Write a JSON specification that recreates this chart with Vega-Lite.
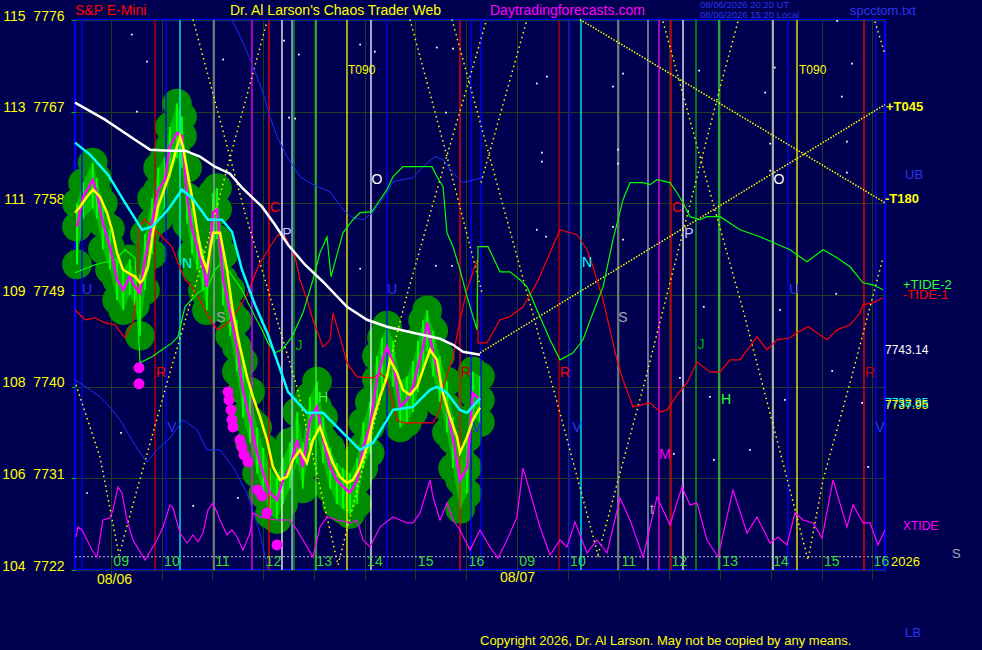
{
  "$schema": "https://vega.github.io/schema/vega-lite/v6.json",
  "description": "S&P E-Mini chaos trader chart, 08/06 - 08/07",
  "width": 810,
  "height": 550,
  "autosize": {"type": "none"},
  "padding": {"left": 75, "top": 20, "right": 97, "bottom": 80},
  "background": "#000050",
  "config": {
    "view": {"fill": "#000050", "stroke": "#0000ff", "strokeWidth": 2.5},
    "font": "Liberation Sans"
  },
  "datasets": {
    "base": [{"t": -0.709, "p": 7723.3}, {"t": 15.251, "p": 7723.3}],
    "px": [
      {"t": -0.67, "p": 7755.7, "hi": 7758.0, "lo": 7752.0},
      {"t": -0.55, "p": 7758.6, "hi": 7760.0, "lo": 7756.5},
      {"t": -0.36, "p": 7760.3, "hi": 7762.0, "lo": 7757.5},
      {"t": -0.28, "p": 7759.0, "hi": 7760.5, "lo": 7756.5},
      {"t": -0.16, "p": 7756.1, "hi": 7758.0, "lo": 7753.5},
      {"t": -0.02, "p": 7753.7, "hi": 7755.5, "lo": 7751.5},
      {"t": 0.12, "p": 7750.5, "hi": 7752.5, "lo": 7748.5},
      {"t": 0.24, "p": 7749.5, "hi": 7751.5, "lo": 7747.5},
      {"t": 0.37, "p": 7750.8, "hi": 7752.5, "lo": 7749.0},
      {"t": 0.47, "p": 7749.8, "hi": 7751.0, "lo": 7748.0},
      {"t": 0.57, "p": 7749.2, "hi": 7751.0, "lo": 7745.0},
      {"t": 0.67, "p": 7752.5, "hi": 7755.0, "lo": 7749.5},
      {"t": 0.81, "p": 7756.1, "hi": 7758.5, "lo": 7753.0},
      {"t": 0.93, "p": 7759.3, "hi": 7761.5, "lo": 7756.5},
      {"t": 1.06, "p": 7760.3, "hi": 7762.5, "lo": 7757.5},
      {"t": 1.16, "p": 7763.6, "hi": 7765.5, "lo": 7760.5},
      {"t": 1.30, "p": 7764.9, "hi": 7767.8, "lo": 7762.5},
      {"t": 1.40, "p": 7764.6, "hi": 7766.5, "lo": 7761.5},
      {"t": 1.50, "p": 7758.6, "hi": 7761.5, "lo": 7756.0},
      {"t": 1.60, "p": 7755.4, "hi": 7757.5, "lo": 7753.0},
      {"t": 1.70, "p": 7753.7, "hi": 7755.5, "lo": 7751.5},
      {"t": 1.81, "p": 7751.8, "hi": 7753.5, "lo": 7749.5},
      {"t": 1.89, "p": 7749.8, "hi": 7752.0, "lo": 7747.5},
      {"t": 2.01, "p": 7757.1, "hi": 7759.0, "lo": 7754.0},
      {"t": 2.09, "p": 7757.4, "hi": 7759.5, "lo": 7754.5},
      {"t": 2.21, "p": 7750.5, "hi": 7753.0, "lo": 7748.0},
      {"t": 2.35, "p": 7747.3, "hi": 7749.5, "lo": 7745.0},
      {"t": 2.48, "p": 7743.9, "hi": 7746.5, "lo": 7741.5},
      {"t": 2.60, "p": 7739.7, "hi": 7742.5, "lo": 7737.0},
      {"t": 2.74, "p": 7736.7, "hi": 7739.5, "lo": 7734.5},
      {"t": 2.88, "p": 7733.5, "hi": 7736.0, "lo": 7731.5},
      {"t": 3.00, "p": 7731.5, "hi": 7734.0, "lo": 7729.5},
      {"t": 3.13, "p": 7729.6, "hi": 7732.0, "lo": 7727.5},
      {"t": 3.27, "p": 7728.9, "hi": 7731.0, "lo": 7727.0},
      {"t": 3.39, "p": 7730.8, "hi": 7733.0, "lo": 7728.5},
      {"t": 3.53, "p": 7732.1, "hi": 7734.5, "lo": 7730.0},
      {"t": 3.67, "p": 7734.8, "hi": 7737.5, "lo": 7732.5},
      {"t": 3.78, "p": 7732.1, "hi": 7734.5, "lo": 7730.0},
      {"t": 3.92, "p": 7736.7, "hi": 7739.0, "lo": 7734.0},
      {"t": 4.06, "p": 7738.0, "hi": 7740.5, "lo": 7735.5},
      {"t": 4.18, "p": 7734.8, "hi": 7737.0, "lo": 7732.5},
      {"t": 4.32, "p": 7732.1, "hi": 7734.0, "lo": 7730.0},
      {"t": 4.45, "p": 7730.8, "hi": 7732.5, "lo": 7728.5},
      {"t": 4.57, "p": 7730.2, "hi": 7732.0, "lo": 7728.0},
      {"t": 4.71, "p": 7729.6, "hi": 7731.5, "lo": 7727.5},
      {"t": 4.85, "p": 7730.8, "hi": 7733.0, "lo": 7728.5},
      {"t": 4.97, "p": 7734.1, "hi": 7736.5, "lo": 7732.0},
      {"t": 5.10, "p": 7736.1, "hi": 7738.5, "lo": 7733.5},
      {"t": 5.24, "p": 7740.7, "hi": 7743.0, "lo": 7738.0},
      {"t": 5.34, "p": 7742.6, "hi": 7744.8, "lo": 7739.5},
      {"t": 5.44, "p": 7743.9, "hi": 7746.0, "lo": 7741.5},
      {"t": 5.56, "p": 7742.3, "hi": 7744.5, "lo": 7740.0},
      {"t": 5.70, "p": 7738.0, "hi": 7740.5, "lo": 7736.0},
      {"t": 5.83, "p": 7738.7, "hi": 7741.0, "lo": 7736.5},
      {"t": 5.95, "p": 7740.0, "hi": 7742.5, "lo": 7737.5},
      {"t": 6.05, "p": 7742.0, "hi": 7744.5, "lo": 7739.5},
      {"t": 6.15, "p": 7743.9, "hi": 7746.5, "lo": 7741.5},
      {"t": 6.23, "p": 7746.3, "hi": 7747.5, "lo": 7743.5},
      {"t": 6.35, "p": 7743.3, "hi": 7745.5, "lo": 7741.0},
      {"t": 6.48, "p": 7740.7, "hi": 7743.0, "lo": 7738.5},
      {"t": 6.62, "p": 7738.0, "hi": 7740.5, "lo": 7735.5},
      {"t": 6.74, "p": 7734.8, "hi": 7737.0, "lo": 7732.0},
      {"t": 6.88, "p": 7730.8, "hi": 7733.0, "lo": 7728.0},
      {"t": 7.02, "p": 7732.1, "hi": 7735.0, "lo": 7729.5},
      {"t": 7.13, "p": 7739.4, "hi": 7741.5, "lo": 7737.0},
      {"t": 7.27, "p": 7738.7, "hi": 7741.0, "lo": 7736.5}
    ],
    "smooth": [
      {"t": -0.709, "p": 7757.08}, {"t": -0.611, "p": 7757.67}, {"t": -0.473, "p": 7758.65}, {"t": -0.355, "p": 7759.34},
      {"t": -0.217, "p": 7758.65}, {"t": -0.079, "p": 7757.08}, {"t": 0.02, "p": 7755.41}, {"t": 0.118, "p": 7753.15},
      {"t": 0.236, "p": 7751.48}, {"t": 0.473, "p": 7750.79}, {"t": 0.571, "p": 7750.2}, {"t": 0.631, "p": 7750.49},
      {"t": 0.729, "p": 7751.77}, {"t": 0.828, "p": 7755.11}, {"t": 0.926, "p": 7757.67}, {"t": 1.025, "p": 7759.04},
      {"t": 1.163, "p": 7761.01}, {"t": 1.3, "p": 7763.56}, {"t": 1.36, "p": 7764.55}, {"t": 1.419, "p": 7763.56},
      {"t": 1.498, "p": 7761.3}, {"t": 1.596, "p": 7758.65}, {"t": 1.695, "p": 7755.41}, {"t": 1.793, "p": 7752.76},
      {"t": 1.892, "p": 7751.48}, {"t": 1.951, "p": 7753.44}, {"t": 2.01, "p": 7755.11}, {"t": 2.148, "p": 7755.11},
      {"t": 2.286, "p": 7751.48}, {"t": 2.404, "p": 7747.25}, {"t": 2.542, "p": 7743.91}, {"t": 2.68, "p": 7740.96},
      {"t": 2.798, "p": 7739.0}, {"t": 2.936, "p": 7737.03}, {"t": 3.074, "p": 7734.77}, {"t": 3.192, "p": 7732.12},
      {"t": 3.33, "p": 7730.84}, {"t": 3.468, "p": 7731.14}, {"t": 3.586, "p": 7732.81}, {"t": 3.724, "p": 7733.79},
      {"t": 3.862, "p": 7732.51}, {"t": 3.98, "p": 7734.77}, {"t": 4.118, "p": 7736.05}, {"t": 4.256, "p": 7734.08},
      {"t": 4.374, "p": 7732.51}, {"t": 4.512, "p": 7731.14}, {"t": 4.65, "p": 7730.55}, {"t": 4.768, "p": 7730.84},
      {"t": 4.906, "p": 7732.12}, {"t": 5.044, "p": 7734.08}, {"t": 5.163, "p": 7736.74}, {"t": 5.3, "p": 7738.99},
      {"t": 5.438, "p": 7740.96}, {"t": 5.498, "p": 7742.63}, {"t": 5.635, "p": 7741.36}, {"t": 5.754, "p": 7739.68},
      {"t": 5.892, "p": 7739.19}, {"t": 6.03, "p": 7739.98}, {"t": 6.148, "p": 7741.65}, {"t": 6.286, "p": 7743.62},
      {"t": 6.424, "p": 7742.63}, {"t": 6.522, "p": 7739.68}, {"t": 6.68, "p": 7737.03}, {"t": 6.818, "p": 7735.07},
      {"t": 6.877, "p": 7733.49}, {"t": 7.015, "p": 7735.07}, {"t": 7.133, "p": 7736.74}, {"t": 7.271, "p": 7737.95}
    ],
    "maSlow": [
      {"t": -0.709, "p": 7767.89}, {"t": -0.118, "p": 7766.22}, {"t": 0.473, "p": 7764.25}, {"t": 0.768, "p": 7763.27},
      {"t": 1.163, "p": 7763.17}, {"t": 1.458, "p": 7763.17}, {"t": 1.754, "p": 7762.58}, {"t": 2.049, "p": 7761.6},
      {"t": 2.345, "p": 7760.91}, {"t": 2.581, "p": 7759.54}, {"t": 2.975, "p": 7757.67}, {"t": 3.232, "p": 7755.9},
      {"t": 3.488, "p": 7753.94}, {"t": 3.823, "p": 7751.97}, {"t": 4.177, "p": 7750.3}, {"t": 4.65, "p": 7747.84},
      {"t": 5.044, "p": 7746.57}, {"t": 5.438, "p": 7745.88}, {"t": 5.951, "p": 7745.29}, {"t": 6.483, "p": 7744.7},
      {"t": 6.739, "p": 7744.11}, {"t": 6.936, "p": 7743.42}, {"t": 7.271, "p": 7743.14}
    ],
    "maFast": [
      {"t": -0.709, "p": 7763.96}, {"t": -0.414, "p": 7762.78}, {"t": -0.059, "p": 7760.81}, {"t": 0.276, "p": 7758.06},
      {"t": 0.611, "p": 7755.41}, {"t": 0.808, "p": 7755.7}, {"t": 1.123, "p": 7757.37}, {"t": 1.399, "p": 7759.34},
      {"t": 1.596, "p": 7758.55}, {"t": 1.911, "p": 7756.39}, {"t": 2.187, "p": 7756.39}, {"t": 2.384, "p": 7755.21},
      {"t": 2.581, "p": 7751.48}, {"t": 2.837, "p": 7748.04}, {"t": 3.094, "p": 7745.09}, {"t": 3.488, "p": 7739.49},
      {"t": 3.862, "p": 7737.43}, {"t": 4.177, "p": 7737.43}, {"t": 4.65, "p": 7735.07}, {"t": 4.906, "p": 7733.79},
      {"t": 5.163, "p": 7734.48}, {"t": 5.557, "p": 7737.72}, {"t": 5.951, "p": 7738.01}, {"t": 6.286, "p": 7739.68},
      {"t": 6.424, "p": 7739.98}, {"t": 6.621, "p": 7739.39}, {"t": 6.877, "p": 7737.72}, {"t": 7.015, "p": 7737.43},
      {"t": 7.271, "p": 7738.85}
    ],
    "tide2": [
      {"t": -0.709, "p": 7751.19}, {"t": -0.315, "p": 7751.97}, {"t": 0.079, "p": 7752.46}, {"t": 0.276, "p": 7753.44},
      {"t": 0.473, "p": 7752.66}, {"t": 0.571, "p": 7742.34}, {"t": 0.808, "p": 7742.93}, {"t": 1.005, "p": 7743.62},
      {"t": 1.202, "p": 7744.3}, {"t": 1.32, "p": 7744.89}, {"t": 1.458, "p": 7747.84}, {"t": 1.714, "p": 7749.22},
      {"t": 1.911, "p": 7749.81}, {"t": 2.049, "p": 7751.48}, {"t": 2.187, "p": 7752.17}, {"t": 2.305, "p": 7751.48},
      {"t": 2.443, "p": 7750.5}, {"t": 2.581, "p": 7749.51}, {"t": 2.7, "p": 7748.23}, {"t": 2.837, "p": 7746.86},
      {"t": 2.975, "p": 7745.58}, {"t": 3.094, "p": 7744.3}, {"t": 3.232, "p": 7743.32}, {"t": 3.369, "p": 7743.62},
      {"t": 3.567, "p": 7744.89}, {"t": 3.783, "p": 7747.25}, {"t": 3.98, "p": 7750.5}, {"t": 4.118, "p": 7753.15},
      {"t": 4.256, "p": 7754.72}, {"t": 4.335, "p": 7750.79}, {"t": 4.571, "p": 7755.11}, {"t": 4.768, "p": 7756.39},
      {"t": 4.906, "p": 7757.08}, {"t": 5.143, "p": 7757.18}, {"t": 5.261, "p": 7758.06}, {"t": 5.438, "p": 7759.34},
      {"t": 5.557, "p": 7760.62}, {"t": 5.754, "p": 7761.6}, {"t": 6.325, "p": 7761.6}, {"t": 6.424, "p": 7760.62},
      {"t": 6.542, "p": 7759.63}, {"t": 6.621, "p": 7755.11}, {"t": 6.739, "p": 7753.74}, {"t": 6.877, "p": 7751.48},
      {"t": 7.034, "p": 7748.53}, {"t": 7.212, "p": 7745.58}, {"t": 7.232, "p": 7753.74}, {"t": 7.429, "p": 7753.74},
      {"t": 7.665, "p": 7751.28}, {"t": 7.862, "p": 7751.28}, {"t": 8.059, "p": 7750.5}, {"t": 8.197, "p": 7749.81},
      {"t": 8.453, "p": 7746.86}, {"t": 8.65, "p": 7744.6}, {"t": 8.847, "p": 7742.63}, {"t": 9.103, "p": 7743.32},
      {"t": 9.3, "p": 7744.6}, {"t": 9.498, "p": 7747.25}, {"t": 9.695, "p": 7749.81}, {"t": 9.892, "p": 7754.43},
      {"t": 10.089, "p": 7758.36}, {"t": 10.227, "p": 7760.03}, {"t": 10.483, "p": 7760.03}, {"t": 10.621, "p": 7759.83},
      {"t": 10.759, "p": 7760.32}, {"t": 11.015, "p": 7760.03}, {"t": 11.153, "p": 7759.04}, {"t": 11.271, "p": 7758.06},
      {"t": 11.409, "p": 7756.69}, {"t": 11.606, "p": 7756.39}, {"t": 11.744, "p": 7756.69}, {"t": 12.0, "p": 7756.69},
      {"t": 12.394, "p": 7755.41}, {"t": 12.788, "p": 7754.72}, {"t": 13.379, "p": 7753.44}, {"t": 13.714, "p": 7752.26},
      {"t": 14.03, "p": 7753.44}, {"t": 14.305, "p": 7752.66}, {"t": 14.562, "p": 7751.77}, {"t": 14.818, "p": 7750.2},
      {"t": 15.015, "p": 7750.0}, {"t": 15.212, "p": 7749.51}
    ],
    "tide1": [
      {"t": -0.709, "p": 7747.55}, {"t": -0.512, "p": 7746.57}, {"t": -0.315, "p": 7746.76}, {"t": -0.118, "p": 7746.27},
      {"t": 0.079, "p": 7746.07}, {"t": 0.276, "p": 7744.8}, {"t": 0.433, "p": 7746.27}, {"t": 0.53, "p": 7749.51},
      {"t": 0.54, "p": 7755.7}, {"t": 0.67, "p": 7756.39}, {"t": 0.867, "p": 7755.41}, {"t": 1.005, "p": 7754.72},
      {"t": 1.202, "p": 7753.74}, {"t": 1.32, "p": 7752.17}, {"t": 1.458, "p": 7750.5}, {"t": 1.596, "p": 7749.81},
      {"t": 1.714, "p": 7748.83}, {"t": 1.852, "p": 7747.55}, {"t": 1.99, "p": 7746.27}, {"t": 2.108, "p": 7745.58},
      {"t": 2.305, "p": 7746.27}, {"t": 2.502, "p": 7747.55}, {"t": 2.7, "p": 7749.22}, {"t": 2.897, "p": 7751.77},
      {"t": 3.094, "p": 7753.44}, {"t": 3.291, "p": 7754.92}, {"t": 3.429, "p": 7754.72}, {"t": 3.626, "p": 7752.76},
      {"t": 3.724, "p": 7750.5}, {"t": 3.862, "p": 7748.53}, {"t": 3.98, "p": 7746.57}, {"t": 4.177, "p": 7743.91},
      {"t": 4.315, "p": 7744.6}, {"t": 4.374, "p": 7747.25}, {"t": 4.512, "p": 7744.89}, {"t": 4.65, "p": 7742.34},
      {"t": 4.847, "p": 7740.96}, {"t": 5.163, "p": 7740.86}, {"t": 5.3, "p": 7741.36}, {"t": 5.438, "p": 7740.67},
      {"t": 5.498, "p": 7739.39}, {"t": 5.635, "p": 7736.74}, {"t": 5.754, "p": 7736.44}, {"t": 6.345, "p": 7736.44},
      {"t": 6.483, "p": 7737.72}, {"t": 6.542, "p": 7739.98}, {"t": 6.739, "p": 7742.93}, {"t": 6.877, "p": 7746.57},
      {"t": 7.015, "p": 7749.51}, {"t": 7.212, "p": 7752.46}, {"t": 7.232, "p": 7744.3}, {"t": 7.409, "p": 7744.3},
      {"t": 7.665, "p": 7746.57}, {"t": 7.862, "p": 7746.86}, {"t": 8.118, "p": 7747.84}, {"t": 8.394, "p": 7750.2},
      {"t": 8.65, "p": 7753.15}, {"t": 8.847, "p": 7755.41}, {"t": 8.985, "p": 7755.21}, {"t": 9.182, "p": 7754.92},
      {"t": 9.379, "p": 7753.44}, {"t": 9.498, "p": 7751.77}, {"t": 9.695, "p": 7748.53}, {"t": 9.97, "p": 7742.63},
      {"t": 10.089, "p": 7740.67}, {"t": 10.286, "p": 7738.01}, {"t": 10.621, "p": 7738.41}, {"t": 10.818, "p": 7737.52},
      {"t": 10.956, "p": 7737.72}, {"t": 11.153, "p": 7739.19}, {"t": 11.35, "p": 7740.37}, {"t": 11.547, "p": 7742.44},
      {"t": 11.803, "p": 7741.45}, {"t": 12.0, "p": 7741.45}, {"t": 12.197, "p": 7742.63}, {"t": 12.394, "p": 7742.63},
      {"t": 12.729, "p": 7744.89}, {"t": 12.926, "p": 7743.62}, {"t": 13.123, "p": 7744.6}, {"t": 13.379, "p": 7744.8},
      {"t": 13.517, "p": 7745.29}, {"t": 13.734, "p": 7745.88}, {"t": 14.108, "p": 7744.6}, {"t": 14.305, "p": 7745.58},
      {"t": 14.562, "p": 7746.07}, {"t": 14.759, "p": 7747.25}, {"t": 14.818, "p": 7748.04}, {"t": 15.015, "p": 7748.23},
      {"t": 15.212, "p": 7748.73}
    ],
    "xtide": [
      {"t": -0.69, "p": 7725.24}, {"t": -0.65, "p": 7726.22}, {"t": -0.571, "p": 7725.93}, {"t": -0.374, "p": 7723.96},
      {"t": -0.276, "p": 7723.27}, {"t": -0.158, "p": 7726.91}, {"t": -0.02, "p": 7727.11}, {"t": 0.039, "p": 7727.9},
      {"t": 0.138, "p": 7730.15}, {"t": 0.217, "p": 7729.56}, {"t": 0.315, "p": 7726.91}, {"t": 0.433, "p": 7724.95},
      {"t": 0.67, "p": 7722.98}, {"t": 0.906, "p": 7724.95}, {"t": 1.025, "p": 7726.22}, {"t": 1.163, "p": 7728.39},
      {"t": 1.222, "p": 7728.09}, {"t": 1.36, "p": 7725.63}, {"t": 1.498, "p": 7724.65}, {"t": 1.616, "p": 7725.44},
      {"t": 1.714, "p": 7724.75}, {"t": 1.813, "p": 7725.63}, {"t": 1.911, "p": 7727.9}, {"t": 2.01, "p": 7728.58},
      {"t": 2.148, "p": 7726.91}, {"t": 2.286, "p": 7725.44}, {"t": 2.384, "p": 7725.93}, {"t": 2.483, "p": 7725.24},
      {"t": 2.601, "p": 7723.96}, {"t": 2.739, "p": 7725.63}, {"t": 2.798, "p": 7727.6}, {"t": 2.936, "p": 7727.21},
      {"t": 3.271, "p": 7726.91}, {"t": 3.527, "p": 7726.91}, {"t": 3.665, "p": 7725.93}, {"t": 3.783, "p": 7724.95},
      {"t": 3.98, "p": 7723.27}, {"t": 4.118, "p": 7726.22}, {"t": 4.256, "p": 7727.21}, {"t": 4.453, "p": 7726.91},
      {"t": 4.709, "p": 7726.62}, {"t": 4.847, "p": 7726.91}, {"t": 4.966, "p": 7724.95}, {"t": 5.103, "p": 7724.26},
      {"t": 5.3, "p": 7726.22}, {"t": 5.557, "p": 7727.21}, {"t": 5.833, "p": 7726.62}, {"t": 5.951, "p": 7726.62},
      {"t": 6.089, "p": 7727.6}, {"t": 6.286, "p": 7730.84}, {"t": 6.345, "p": 7729.17}, {"t": 6.483, "p": 7726.91},
      {"t": 6.621, "p": 7728.58}, {"t": 6.739, "p": 7726.91}, {"t": 6.877, "p": 7725.93}, {"t": 7.074, "p": 7723.96},
      {"t": 7.271, "p": 7725.93}, {"t": 7.468, "p": 7724.26}, {"t": 7.626, "p": 7723.18}, {"t": 7.803, "p": 7724.95},
      {"t": 8.0, "p": 7727.21}, {"t": 8.118, "p": 7732.02}, {"t": 8.256, "p": 7729.66}, {"t": 8.453, "p": 7726.22},
      {"t": 8.65, "p": 7723.47}, {"t": 8.847, "p": 7724.95}, {"t": 8.985, "p": 7724.26}, {"t": 9.143, "p": 7726.71},
      {"t": 9.379, "p": 7723.67}, {"t": 9.576, "p": 7724.95}, {"t": 9.773, "p": 7723.67}, {"t": 10.03, "p": 7729.07},
      {"t": 10.227, "p": 7726.91}, {"t": 10.483, "p": 7723.27}, {"t": 10.759, "p": 7729.17}, {"t": 11.015, "p": 7726.42},
      {"t": 11.251, "p": 7730.15}, {"t": 11.409, "p": 7728.39}, {"t": 11.547, "p": 7728.58}, {"t": 11.744, "p": 7724.95},
      {"t": 11.961, "p": 7723.27}, {"t": 12.256, "p": 7729.86}, {"t": 12.532, "p": 7725.63}, {"t": 12.729, "p": 7727.21},
      {"t": 12.985, "p": 7724.65}, {"t": 13.143, "p": 7725.24}, {"t": 13.32, "p": 7724.46}, {"t": 13.478, "p": 7727.6},
      {"t": 13.635, "p": 7726.91}, {"t": 13.833, "p": 7726.62}, {"t": 14.01, "p": 7725.14}, {"t": 14.227, "p": 7730.84},
      {"t": 14.502, "p": 7726.22}, {"t": 14.621, "p": 7728.39}, {"t": 14.818, "p": 7726.62}, {"t": 14.956, "p": 7726.62},
      {"t": 15.113, "p": 7724.46}, {"t": 15.251, "p": 7725.93}
    ],
    "bands": [
      {"t": 2.384, "p": 7776.05, "id": "upper"}, {"t": 2.601, "p": 7773.79, "id": "upper"}, {"t": 2.798, "p": 7771.43, "id": "upper"},
      {"t": 2.995, "p": 7768.87, "id": "upper"}, {"t": 3.133, "p": 7766.51, "id": "upper"}, {"t": 3.271, "p": 7764.55, "id": "upper"},
      {"t": 3.468, "p": 7762.58, "id": "upper"}, {"t": 3.724, "p": 7760.62, "id": "upper"}, {"t": 3.98, "p": 7759.83, "id": "upper"},
      {"t": 4.315, "p": 7759.14, "id": "upper"}, {"t": 4.571, "p": 7757.37, "id": "upper"}, {"t": 4.768, "p": 7756.59, "id": "upper"},
      {"t": 4.966, "p": 7756.39, "id": "upper"}, {"t": 5.163, "p": 7757.08, "id": "upper"}, {"t": 5.438, "p": 7759.04, "id": "upper"},
      {"t": 5.557, "p": 7760.13, "id": "upper"}, {"t": 5.951, "p": 7760.52, "id": "upper"}, {"t": 6.148, "p": 7761.6, "id": "upper"},
      {"t": 6.384, "p": 7762.58, "id": "upper"}, {"t": 6.542, "p": 7762.29, "id": "upper"}, {"t": 6.739, "p": 7761.01, "id": "upper"},
      {"t": 6.936, "p": 7760.03, "id": "upper"}, {"t": 7.31, "p": 7760.52, "id": "upper"},
      {"t": -0.709, "p": 7740.67, "id": "lower"}, {"t": -0.414, "p": 7739.69, "id": "lower"}, {"t": -0.217, "p": 7739.0, "id": "lower"},
      {"t": -0.02, "p": 7738.01, "id": "lower"}, {"t": 0.177, "p": 7736.74, "id": "lower"}, {"t": 0.374, "p": 7735.07, "id": "lower"},
      {"t": 0.571, "p": 7733.49, "id": "lower"}, {"t": 0.709, "p": 7732.61, "id": "lower"}, {"t": 0.906, "p": 7733.79, "id": "lower"},
      {"t": 1.163, "p": 7734.97, "id": "lower"}, {"t": 1.419, "p": 7736.74, "id": "lower"}, {"t": 1.695, "p": 7735.76, "id": "lower"},
      {"t": 1.892, "p": 7733.79, "id": "lower"}, {"t": 2.148, "p": 7733.79, "id": "lower"}, {"t": 2.404, "p": 7732.12, "id": "lower"},
      {"t": 2.68, "p": 7729.56, "id": "lower"}, {"t": 2.936, "p": 7725.63, "id": "lower"}, {"t": 3.094, "p": 7722.0, "id": "lower"}
    ],
    "cycles": [
      {"t": -0.69, "p": 7740.18, "id": "v1"}, {"t": -0.217, "p": 7733.1, "id": "v1"}, {"t": 0.158, "p": 7723.47, "id": "v1"},
      {"t": 0.512, "p": 7729.86, "id": "v1"}, {"t": 1.103, "p": 7740.37, "id": "v1"}, {"t": 1.754, "p": 7751.48, "id": "v1"},
      {"t": 2.404, "p": 7763.57, "id": "v1"}, {"t": 3.074, "p": 7775.85, "id": "v1"},
      {"t": 1.616, "p": 7776.05, "id": "v2"}, {"t": 2.64, "p": 7757.08, "id": "v2"}, {"t": 3.665, "p": 7739.98, "id": "v2"},
      {"t": 4.473, "p": 7722.49, "id": "v2"}, {"t": 5.3, "p": 7738.7, "id": "v2"}, {"t": 5.833, "p": 7749.02, "id": "v2"},
      {"t": 6.424, "p": 7759.34, "id": "v2"}, {"t": 7.271, "p": 7773.79, "id": "v2"}, {"t": 7.389, "p": 7775.85, "id": "v2"},
      {"t": 6.719, "p": 7776.05, "id": "v3"}, {"t": 7.33, "p": 7764.94, "id": "v3"}, {"t": 8.197, "p": 7749.22, "id": "v3"},
      {"t": 8.847, "p": 7737.43, "id": "v3"}, {"t": 9.596, "p": 7723.47, "id": "v3"}, {"t": 10.03, "p": 7731.53, "id": "v3"},
      {"t": 10.542, "p": 7740.96, "id": "v3"}, {"t": 11.094, "p": 7751.77, "id": "v3"}, {"t": 12.0, "p": 7769.37, "id": "v3"},
      {"t": 12.355, "p": 7775.85, "id": "v3"},
      {"t": 10.877, "p": 7775.85, "id": "v4"}, {"t": 11.606, "p": 7762.58, "id": "v4"}, {"t": 12.453, "p": 7747.55, "id": "v4"},
      {"t": 13.241, "p": 7732.51, "id": "v4"}, {"t": 13.734, "p": 7722.98, "id": "v4"}, {"t": 14.03, "p": 7730.84, "id": "v4"},
      {"t": 14.562, "p": 7740.37, "id": "v4"}, {"t": 15.212, "p": 7752.66, "id": "v4"},
      {"t": 5.892, "p": 7776.05, "id": "a"}, {"t": 6.621, "p": 7762.58, "id": "a"}, {"t": 7.31, "p": 7749.22, "id": "a"},
      {"t": 7.291, "p": 7760.03, "id": "c"}, {"t": 8.197, "p": 7776.05, "id": "c"},
      {"t": 15.054, "p": 7775.85, "id": "e"}, {"t": 15.251, "p": 7772.61, "id": "e"}
    ],
    "angles": [
      {"t": 7.271, "p": 7743.32, "id": "T045"}, {"t": 15.251, "p": 7767.7, "id": "T045"},
      {"t": 9.241, "p": 7776.05, "id": "T180"}, {"t": 15.251, "p": 7758.06, "id": "T180"}
    ],
    "events": [
      {"t": 0.552, "p": 7741.85}, {"t": 0.552, "p": 7740.28}, {"t": 2.305, "p": 7739.49}, {"t": 2.325, "p": 7738.7},
      {"t": 2.365, "p": 7737.72}, {"t": 2.384, "p": 7736.74}, {"t": 2.404, "p": 7736.05}, {"t": 2.542, "p": 7734.77},
      {"t": 2.581, "p": 7734.08}, {"t": 2.621, "p": 7733.3}, {"t": 2.7, "p": 7732.61}, {"t": 2.897, "p": 7729.86},
      {"t": 2.975, "p": 7729.27}, {"t": 3.074, "p": 7727.6}, {"t": 3.271, "p": 7724.46}
    ],
    "stars": [
      {"t": 0.41, "p": 7774.57}, {"t": 0.71, "p": 7771.92}, {"t": 0.51, "p": 7767.0}, {"t": 2.21, "p": 7772.12},
      {"t": 3.41, "p": 7773.98}, {"t": 3.7, "p": 7772.61}, {"t": 3.51, "p": 7766.41}, {"t": 3.63, "p": 7766.32},
      {"t": 4.91, "p": 7773.59}, {"t": 5.2, "p": 7772.9}, {"t": 6.42, "p": 7773.3}, {"t": 6.74, "p": 7773.2},
      {"t": 6.6, "p": 7766.91}, {"t": 8.59, "p": 7770.45}, {"t": 8.39, "p": 7769.76}, {"t": 8.49, "p": 7762.98},
      {"t": 8.49, "p": 7762.09}, {"t": 8.39, "p": 7755.41}, {"t": 8.57, "p": 7754.72}, {"t": 4.91, "p": 7751.58},
      {"t": 6.4, "p": 7751.87}, {"t": 6.72, "p": 7751.87}, {"t": 10.09, "p": 7770.74}, {"t": 9.89, "p": 7769.46},
      {"t": 9.99, "p": 7763.27}, {"t": 9.99, "p": 7761.9}, {"t": 9.89, "p": 7755.7}, {"t": 10.09, "p": 7754.43},
      {"t": 14.31, "p": 7775.9}, {"t": 14.6, "p": 7771.72}, {"t": 14.4, "p": 7768.48}, {"t": 14.5, "p": 7764.06},
      {"t": 14.5, "p": 7761.01}, {"t": 13.08, "p": 7771.33}, {"t": 12.89, "p": 7768.87}, {"t": 11.59, "p": 7771.03},
      {"t": 12.99, "p": 7763.86}, {"t": 12.99, "p": 7761.21}, {"t": 14.29, "p": 7749.12}, {"t": 14.21, "p": 7741.55},
      {"t": 13.28, "p": 7738.7}, {"t": 12.59, "p": 7733.79}, {"t": 11.88, "p": 7732.81}, {"t": 11.8, "p": 7739.0},
      {"t": 11.09, "p": 7733.4}, {"t": 11.68, "p": 7747.84}, {"t": 11.21, "p": 7740.86}, {"t": 14.8, "p": 7738.41},
      {"t": 14.92, "p": 7732.12}, {"t": 13.18, "p": 7747.55}, {"t": -0.47, "p": 7729.56}, {"t": 1.62, "p": 7728.29},
      {"t": 2.5, "p": 7729.07}, {"t": 0.197, "p": 7735.46}
    ],
    "vlines": [
      {"t": -0.571, "k": "k1"}, {"t": 0.867, "k": "k3"}, {"t": 1.084, "k": "k1"}, {"t": 1.36, "k": "k4"},
      {"t": 2.03, "k": "k5"}, {"t": 2.778, "k": "k6"}, {"t": 3.113, "k": "k2"}, {"t": 3.369, "k": "k7"},
      {"t": 3.567, "k": "k8"}, {"t": 3.606, "k": "k9"}, {"t": 4.039, "k": "k10"}, {"t": 4.65, "k": "k11"},
      {"t": 5.123, "k": "k7"}, {"t": 5.438, "k": "k1"}, {"t": 6.877, "k": "k2"}, {"t": 7.094, "k": "k1"},
      {"t": 7.291, "k": "k1"}, {"t": 8.828, "k": "k3"}, {"t": 9.044, "k": "k1"}, {"t": 9.261, "k": "k4"},
      {"t": 9.99, "k": "k5"}, {"t": 10.581, "k": "k5"}, {"t": 10.798, "k": "k6"}, {"t": 11.034, "k": "k2"},
      {"t": 11.271, "k": "k7"}, {"t": 11.527, "k": "k9"}, {"t": 11.98, "k": "k10"}, {"t": 13.044, "k": "k7"},
      {"t": 13.34, "k": "k1"}, {"t": 13.517, "k": "k11"}, {"t": 14.837, "k": "k2"}, {"t": 15.074, "k": "k1"}
    ],
    "letters": [
      {"t": 3.232, "p": 7757.57, "txt": "C", "k": "k2"}, {"t": 11.153, "p": 7757.57, "txt": "C", "k": "k2"},
      {"t": 3.468, "p": 7755.02, "txt": "P", "k": "k8"}, {"t": 11.389, "p": 7755.02, "txt": "P", "k": "k8"},
      {"t": 5.241, "p": 7760.33, "txt": "O", "k": "k7"}, {"t": 13.163, "p": 7760.33, "txt": "O", "k": "k7"},
      {"t": 1.498, "p": 7752.07, "txt": "N", "k": "k4"}, {"t": 9.379, "p": 7752.17, "txt": "N", "k": "k4"},
      {"t": 2.167, "p": 7746.76, "txt": "S", "k": "k5"}, {"t": 10.089, "p": 7746.76, "txt": "S", "k": "k5"},
      {"t": -0.473, "p": 7749.51, "txt": "U", "k": "k12"}, {"t": 5.537, "p": 7749.51, "txt": "U", "k": "k12"},
      {"t": 13.458, "p": 7749.51, "txt": "U", "k": "k12"},
      {"t": 3.704, "p": 7744.01, "txt": "J", "k": "k9"}, {"t": 11.626, "p": 7744.11, "txt": "J", "k": "k9"},
      {"t": 4.177, "p": 7738.9, "txt": "H", "k": "k10"}, {"t": 12.118, "p": 7738.7, "txt": "H", "k": "k10"},
      {"t": 0.985, "p": 7741.36, "txt": "R", "k": "k2"}, {"t": 6.995, "p": 7741.36, "txt": "R", "k": "k3"},
      {"t": 8.946, "p": 7741.36, "txt": "R", "k": "k2"}, {"t": 14.956, "p": 7741.36, "txt": "R", "k": "k3"},
      {"t": 1.202, "p": 7735.96, "txt": "V", "k": "k12"}, {"t": 7.212, "p": 7735.96, "txt": "V", "k": "k12"},
      {"t": 9.182, "p": 7735.96, "txt": "V", "k": "k12"}, {"t": 15.153, "p": 7735.96, "txt": "V", "k": "k12"},
      {"t": 10.916, "p": 7733.3, "txt": "M", "k": "k6"}, {"t": 10.66, "p": 7727.9, "txt": "t", "k": "k5"}
    ],
    "hours": [
      {"t": 0.2, "p": 7722.79, "txt": "09"}, {"t": 1.2, "p": 7722.79, "txt": "10"}, {"t": 2.2, "p": 7722.79, "txt": "11"},
      {"t": 3.2, "p": 7722.79, "txt": "12"}, {"t": 4.2, "p": 7722.79, "txt": "13"}, {"t": 5.2, "p": 7722.79, "txt": "14"},
      {"t": 6.2, "p": 7722.79, "txt": "15"}, {"t": 7.2, "p": 7722.79, "txt": "16"}, {"t": 8.2, "p": 7722.79, "txt": "09"},
      {"t": 9.2, "p": 7722.79, "txt": "10"}, {"t": 10.2, "p": 7722.79, "txt": "11"}, {"t": 11.2, "p": 7722.79, "txt": "12"},
      {"t": 12.2, "p": 7722.79, "txt": "13"}, {"t": 13.2, "p": 7722.79, "txt": "14"}, {"t": 14.2, "p": 7722.79, "txt": "15"},
      {"t": 15.18, "p": 7722.79, "txt": "16"}
    ],
    "titles": [
      {"t": -0.709, "p": 7776.84, "txt": "S&P E-Mini", "k": "k2"},
      {"t": 2.345, "p": 7776.84, "txt": "Dr. Al Larson's Chaos Trader Web", "k": "k11"},
      {"t": 7.468, "p": 7776.84, "txt": "Daytradingforecasts.com", "k": "k6"},
      {"t": -0.276, "p": 7721.02, "txt": "08/06", "k": "k11"},
      {"t": 7.665, "p": 7721.22, "txt": "08/07", "k": "k11"}
    ],
    "notes": [
      {"t": 14.562, "p": 7776.84, "txt": "spcctom.txt", "k": "k12"},
      {"t": 15.645, "p": 7760.81, "txt": "UB", "k": "k12"},
      {"t": 15.606, "p": 7750.0, "txt": "+TIDE-2", "k": "k10"},
      {"t": 15.606, "p": 7749.0, "txt": "-TIDE-1", "k": "k2"},
      {"t": 15.369, "p": 7722.79, "txt": "2026", "k": "k11"},
      {"t": 16.571, "p": 7723.57, "txt": "S", "k": "k5"},
      {"t": 15.645, "p": 7715.8, "txt": "LB", "k": "k12"},
      {"t": 7.271, "p": 7715.04, "txt": "Copyright 2026, Dr. Al Larson. May not be copied by any means.", "k": "k11"}
    ],
    "small": [
      {"t": 4.67, "p": 7771.13, "txt": "T090", "k": "k11"},
      {"t": 13.557, "p": 7771.13, "txt": "T090", "k": "k11"},
      {"t": 15.251, "p": 7743.62, "txt": "7743.14", "k": "k7"},
      {"t": 15.251, "p": 7738.41, "txt": "7738.85", "k": "k4"},
      {"t": 15.251, "p": 7738.21, "txt": "7737.95", "k": "k11"},
      {"t": 15.606, "p": 7726.32, "txt": "XTIDE", "k": "k6"}
    ],
    "angleNames": [
      {"t": 15.271, "p": 7767.5, "txt": "+T045"},
      {"t": 15.251, "p": 7758.45, "txt": "-T180"}
    ],
    "stamp": [
      {"t": 11.606, "p": 7777.43, "txt": "08/06/2026 20:20 UT"},
      {"t": 11.606, "p": 7776.54, "txt": "08/06/2026 15:20 Local"}
    ]
  },
  "layer": [
    {
      "data": {"name": "base"},
      "mark": {"type": "line", "color": "#c0c0e0", "strokeWidth": 1, "strokeDash": [2, 2]},
      "encoding": {
        "x": {"field": "t", "type": "quantitative", "title": null, "scale": {"domain": [-0.709, 15.251], "nice": false, "zero": false},
          "axis": {"values": [0, 1, 2, 3, 4, 5, 6, 7, 8, 9, 10, 11, 12, 13, 14, 15], "grid": true, "gridColor": "#1e3c1e",
            "ticks": true, "tickColor": "#1e3c1e", "tickSize": 10, "labels": false, "domain": false, "title": null}},
        "y": {"field": "p", "type": "quantitative", "title": null, "scale": {"domain": [7722, 7776], "nice": false, "zero": false},
          "axis": {"values": [7722, 7731, 7740, 7749, 7758, 7767, 7776], "grid": true, "gridColor": "#1e3c1e",
            "tickColor": "#00c000", "tickSize": 4, "domain": false, "title": null, "labelColor": "#ffff00",
            "labelFont": "Liberation Sans", "labelFontSize": 14, "labelPadding": 7, "labelOffset": -4, "labelOverlap": false,
            "labelExpr": "datum.value == 7776 ? '115\u00a0 7776' : datum.value == 7767 ? '113\u00a0 7767' : datum.value == 7758 ? '111\u00a0 7758' : datum.value == 7749 ? '109\u00a0 7749' : datum.value == 7740 ? '108\u00a0 7740' : datum.value == 7731 ? '106\u00a0 7731' : '104\u00a0 7722'"}}
      }
    },
    {
      "data": {"name": "px"},
      "mark": {"type": "circle", "color": "#008c00", "opacity": 1, "size": 880},
      "encoding": {"x": {"field": "t", "type": "quantitative", "title": null}, "y": {"field": "hi", "type": "quantitative", "title": null}}
    },
    {
      "data": {"name": "px"},
      "mark": {"type": "circle", "color": "#008c00", "opacity": 1, "size": 880},
      "encoding": {"x": {"field": "t", "type": "quantitative", "title": null}, "y": {"field": "lo", "type": "quantitative", "title": null}}
    },
    {
      "data": {"name": "px"},
      "mark": {"type": "circle", "color": "#008c00", "opacity": 1, "size": 880},
      "encoding": {"x": {"field": "t", "type": "quantitative", "title": null}, "y": {"field": "p", "type": "quantitative", "title": null}}
    },
    {
      "data": {"name": "px"},
      "mark": {"type": "area", "color": "#00e000", "opacity": 0.6},
      "encoding": {"x": {"field": "t", "type": "quantitative", "title": null}, "y": {"field": "lo", "type": "quantitative", "title": null}, "y2": {"field": "hi"}}
    },
    {
      "data": {"name": "px"},
      "mark": {"type": "rule", "color": "#00ff00", "strokeWidth": 2},
      "encoding": {"x": {"field": "t", "type": "quantitative", "title": null}, "y": {"field": "lo", "type": "quantitative", "title": null}, "y2": {"field": "hi"}}
    },
    {
      "data": {"name": "vlines"},
      "mark": {"type": "rule", "strokeWidth": 1.3},
      "encoding": {
        "x": {"field": "t", "type": "quantitative", "title": null},
        "color": {"field": "k", "type": "nominal", "legend": null,
          "scale": {"domain": ["k1", "k2", "k3", "k4", "k5", "k6", "k7", "k8", "k9", "k10", "k11", "k12"],
            "range": ["#0000ff", "#ff0000", "#c00000", "#00ffff", "#a8a8b8", "#ff00ff", "#ffffff", "#c8c8ff", "#00b000", "#33ff33", "#ffff00", "#2a35f0"]}}
      }
    },
    {
      "data": {"name": "cycles"},
      "mark": {"type": "line", "color": "#ffff00", "strokeWidth": 1.5, "strokeDash": [1.5, 3.5]},
      "encoding": {"x": {"field": "t", "type": "quantitative", "title": null}, "y": {"field": "p", "type": "quantitative", "title": null}, "detail": {"field": "id"}}
    },
    {
      "data": {"name": "angles"},
      "mark": {"type": "line", "color": "#ffff00", "strokeWidth": 1.5, "strokeDash": [1.5, 1.5]},
      "encoding": {"x": {"field": "t", "type": "quantitative", "title": null}, "y": {"field": "p", "type": "quantitative", "title": null}, "detail": {"field": "id"}}
    },
    {
      "data": {"name": "stars"},
      "mark": {"type": "square", "color": "#ffffff", "filled": true, "opacity": 1, "size": 3},
      "encoding": {"x": {"field": "t", "type": "quantitative", "title": null}, "y": {"field": "p", "type": "quantitative", "title": null}}
    },
    {
      "data": {"name": "bands"},
      "mark": {"type": "line", "color": "#1a2cff", "strokeWidth": 1},
      "encoding": {"x": {"field": "t", "type": "quantitative", "title": null}, "y": {"field": "p", "type": "quantitative", "title": null}, "detail": {"field": "id"}}
    },
    {
      "data": {"name": "tide1"},
      "mark": {"type": "line", "color": "#ff0000", "strokeWidth": 1.2},
      "encoding": {"x": {"field": "t", "type": "quantitative", "title": null}, "y": {"field": "p", "type": "quantitative", "title": null}}
    },
    {
      "data": {"name": "tide2"},
      "mark": {"type": "line", "color": "#00ff00", "strokeWidth": 1.2},
      "encoding": {"x": {"field": "t", "type": "quantitative", "title": null}, "y": {"field": "p", "type": "quantitative", "title": null}}
    },
    {
      "data": {"name": "xtide"},
      "mark": {"type": "line", "color": "#ff00ff", "strokeWidth": 1.2},
      "encoding": {"x": {"field": "t", "type": "quantitative", "title": null}, "y": {"field": "p", "type": "quantitative", "title": null}}
    },
    {
      "data": {"name": "events"},
      "mark": {"type": "circle", "color": "#ff00ff", "opacity": 1, "size": 120},
      "encoding": {"x": {"field": "t", "type": "quantitative", "title": null}, "y": {"field": "p", "type": "quantitative", "title": null}}
    },
    {
      "data": {"name": "px"},
      "mark": {"type": "line", "color": "#ff00ff", "strokeWidth": 2.5},
      "encoding": {"x": {"field": "t", "type": "quantitative", "title": null}, "y": {"field": "p", "type": "quantitative", "title": null}}
    },
    {
      "data": {"name": "smooth"},
      "mark": {"type": "line", "color": "#ffff00", "strokeWidth": 2.5},
      "encoding": {"x": {"field": "t", "type": "quantitative", "title": null}, "y": {"field": "p", "type": "quantitative", "title": null}}
    },
    {
      "data": {"name": "maFast"},
      "mark": {"type": "line", "color": "#00ffff", "strokeWidth": 2.5},
      "encoding": {"x": {"field": "t", "type": "quantitative", "title": null}, "y": {"field": "p", "type": "quantitative", "title": null}}
    },
    {
      "data": {"name": "maSlow"},
      "mark": {"type": "line", "color": "#ffffff", "strokeWidth": 2.5},
      "encoding": {"x": {"field": "t", "type": "quantitative", "title": null}, "y": {"field": "p", "type": "quantitative", "title": null}}
    },
    {
      "data": {"name": "letters"},
      "mark": {"type": "text", "align": "center", "baseline": "middle", "font": "Liberation Sans", "fontSize": 14},
      "encoding": {
        "x": {"field": "t", "type": "quantitative", "title": null}, "y": {"field": "p", "type": "quantitative", "title": null},
        "text": {"field": "txt"},
        "color": {"field": "k", "type": "nominal", "legend": null,
          "scale": {"domain": ["k1", "k2", "k3", "k4", "k5", "k6", "k7", "k8", "k9", "k10", "k11", "k12"],
            "range": ["#0000ff", "#ff0000", "#c00000", "#00ffff", "#a8a8b8", "#ff00ff", "#ffffff", "#c8c8ff", "#00b000", "#33ff33", "#ffff00", "#2a35f0"]}}
      }
    },
    {
      "data": {"name": "hours"},
      "mark": {"type": "text", "align": "center", "baseline": "middle", "font": "Liberation Sans", "fontSize": 14, "color": "#33dd33"},
      "encoding": {"x": {"field": "t", "type": "quantitative", "title": null}, "y": {"field": "p", "type": "quantitative", "title": null}, "text": {"field": "txt"}}
    },
    {
      "data": {"name": "titles"},
      "mark": {"type": "text", "align": "left", "baseline": "middle", "font": "Liberation Sans", "fontSize": 14},
      "encoding": {
        "x": {"field": "t", "type": "quantitative", "title": null}, "y": {"field": "p", "type": "quantitative", "title": null},
        "text": {"field": "txt"},
        "color": {"field": "k", "type": "nominal", "legend": null,
          "scale": {"domain": ["k1", "k2", "k3", "k4", "k5", "k6", "k7", "k8", "k9", "k10", "k11", "k12"],
            "range": ["#0000ff", "#ff0000", "#c00000", "#00ffff", "#a8a8b8", "#ff00ff", "#ffffff", "#c8c8ff", "#00b000", "#33ff33", "#ffff00", "#2a35f0"]}}
      }
    },
    {
      "data": {"name": "notes"},
      "mark": {"type": "text", "align": "left", "baseline": "middle", "font": "Liberation Sans", "fontSize": 13},
      "encoding": {
        "x": {"field": "t", "type": "quantitative", "title": null}, "y": {"field": "p", "type": "quantitative", "title": null},
        "text": {"field": "txt"},
        "color": {"field": "k", "type": "nominal", "legend": null,
          "scale": {"domain": ["k1", "k2", "k3", "k4", "k5", "k6", "k7", "k8", "k9", "k10", "k11", "k12"],
            "range": ["#0000ff", "#ff0000", "#c00000", "#00ffff", "#a8a8b8", "#ff00ff", "#ffffff", "#c8c8ff", "#00b000", "#33ff33", "#ffff00", "#2a35f0"]}}
      }
    },
    {
      "data": {"name": "small"},
      "mark": {"type": "text", "align": "left", "baseline": "middle", "font": "Liberation Sans", "fontSize": 12},
      "encoding": {
        "x": {"field": "t", "type": "quantitative", "title": null}, "y": {"field": "p", "type": "quantitative", "title": null},
        "text": {"field": "txt"},
        "color": {"field": "k", "type": "nominal", "legend": null,
          "scale": {"domain": ["k1", "k2", "k3", "k4", "k5", "k6", "k7", "k8", "k9", "k10", "k11", "k12"],
            "range": ["#0000ff", "#ff0000", "#c00000", "#00ffff", "#a8a8b8", "#ff00ff", "#ffffff", "#c8c8ff", "#00b000", "#33ff33", "#ffff00", "#2a35f0"]}}
      }
    },
    {
      "data": {"name": "angleNames"},
      "mark": {"type": "text", "align": "left", "baseline": "middle", "font": "Liberation Sans", "fontSize": 13, "fontWeight": "bold", "color": "#ffff00"},
      "encoding": {"x": {"field": "t", "type": "quantitative", "title": null}, "y": {"field": "p", "type": "quantitative", "title": null}, "text": {"field": "txt"}}
    },
    {
      "data": {"name": "stamp"},
      "mark": {"type": "text", "align": "left", "baseline": "middle", "font": "Liberation Sans", "fontSize": 9.5, "color": "#2a35f0"},
      "encoding": {"x": {"field": "t", "type": "quantitative", "title": null}, "y": {"field": "p", "type": "quantitative", "title": null}, "text": {"field": "txt"}}
    }
  ]
}
